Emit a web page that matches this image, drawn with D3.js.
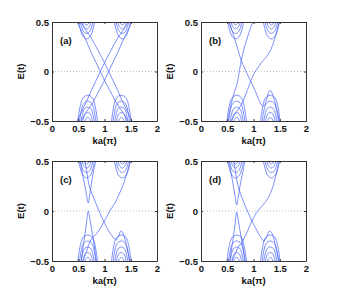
<!DOCTYPE html>
<html lang="en">
<head>
    <meta charset="UTF-8">
    <title>E(t) vs ka</title>
    <script src="https://d3js.org/d3.v7.min.js"></script>
    <style>
        body { margin: 0; background: #fff; }
        text { font-family: "Liberation Sans", Arial, sans-serif; font-weight: bold; font-size: 9.5px; fill: #111; }
    </style>
</head>
<body>
    <div id="chart"></div>
    <script>
        // tick values and labels
        const xTicks = [0, 0.5, 1, 1.5, 2];
        const yTicks = [-0.5, 0, 0.5];
        const panelLabels = ["(a)", "(b)", "(c)", "(d)"];

        // bulk subbands (ka in units of pi, E in units of t), shared by all panels
        const bandsTopLeft = [
            [[0.59, 0.52], [0.63, 0.48], [0.66, 0.47], [0.69, 0.48], [0.73, 0.52]],
            [[0.56, 0.52], [0.61, 0.45], [0.66, 0.43], [0.71, 0.45], [0.76, 0.52]],
            [[0.53, 0.52], [0.60, 0.405], [0.66, 0.385], [0.72, 0.405], [0.79, 0.52]],
            [[0.50, 0.52], [0.585, 0.36], [0.66, 0.33], [0.735, 0.36], [0.82, 0.52]]
        ];
        const bandsTopRight = [
            [[1.41, 0.52], [1.37, 0.48], [1.34, 0.47], [1.31, 0.48], [1.27, 0.52]],
            [[1.44, 0.52], [1.39, 0.45], [1.34, 0.43], [1.29, 0.45], [1.24, 0.52]],
            [[1.47, 0.52], [1.40, 0.405], [1.34, 0.385], [1.28, 0.405], [1.21, 0.52]],
            [[1.50, 0.52], [1.415, 0.36], [1.34, 0.33], [1.265, 0.36], [1.18, 0.52]]
        ];
        const bandsBottomLeft = [
            [[0.61, -0.52], [0.65, -0.475], [0.68, -0.465], [0.71, -0.475], [0.75, -0.52]],
            [[0.58, -0.52], [0.63, -0.43], [0.68, -0.415], [0.73, -0.43], [0.78, -0.52]],
            [[0.55, -0.52], [0.615, -0.38], [0.68, -0.36], [0.745, -0.38], [0.81, -0.52]],
            [[0.52, -0.52], [0.60, -0.325], [0.68, -0.30], [0.76, -0.325], [0.84, -0.52]],
            [[0.49, -0.52], [0.585, -0.27], [0.68, -0.24], [0.775, -0.27], [0.87, -0.52]]
        ];
        const bandsBottomRight = [
            [[1.39, -0.52], [1.35, -0.475], [1.32, -0.465], [1.29, -0.475], [1.25, -0.52]],
            [[1.42, -0.52], [1.37, -0.43], [1.32, -0.415], [1.27, -0.43], [1.22, -0.52]],
            [[1.45, -0.52], [1.385, -0.38], [1.32, -0.36], [1.255, -0.38], [1.19, -0.52]],
            [[1.48, -0.52], [1.40, -0.325], [1.32, -0.30], [1.24, -0.325], [1.16, -0.52]],
            [[1.51, -0.52], [1.415, -0.27], [1.32, -0.24], [1.225, -0.27], [1.13, -0.52]]
        ];

        // edge-state branches of each panel
        const edgeA = [
            [[0.46, 0.52], [0.56, 0.41], [0.66, 0.30], [0.75, 0.19], [0.84, 0.09], [0.92, 0], [1.0, -0.09], [1.1, -0.19], [1.2, -0.29], [1.28, -0.36], [1.36, -0.42], [1.47, -0.52]],
            [[1.54, -0.52], [1.44, -0.41], [1.34, -0.30], [1.25, -0.19], [1.16, -0.09], [1.08, 0], [1.0, 0.09], [0.9, 0.19], [0.8, 0.29], [0.72, 0.36], [0.64, 0.42], [0.53, 0.52]],
            [[0.46, -0.52], [0.56, -0.41], [0.66, -0.30], [0.75, -0.19], [0.84, -0.09], [0.92, 0], [1.0, 0.09], [1.1, 0.19], [1.2, 0.29], [1.28, 0.36], [1.36, 0.42], [1.47, 0.52]],
            [[1.54, 0.52], [1.44, 0.41], [1.34, 0.30], [1.25, 0.19], [1.16, 0.09], [1.08, 0], [1.0, -0.09], [0.9, -0.19], [0.8, -0.29], [0.72, -0.36], [0.64, -0.42], [0.53, -0.52]]
        ];
        const edgeB = [
            [[0.50, -0.52], [0.58, -0.32], [0.64, -0.20], [0.69, -0.12], [0.73, 0.0], [0.77, 0.12], [0.81, 0.21], [0.87, 0.32], [0.93, 0.42], [1.0, 0.52]],
            [[0.52, 0.52], [0.60, 0.40], [0.66, 0.30], [0.71, 0.21], [0.76, 0.12], [0.84, 0.02], [0.93, -0.08], [1.02, -0.18], [1.09, -0.27], [1.14, -0.33], [1.19, -0.35], [1.24, -0.30], [1.28, -0.22], [1.32, -0.19], [1.37, -0.24], [1.44, -0.38], [1.50, -0.52]],
            [[0.55, -0.52], [0.66, -0.42], [0.74, -0.36], [0.84, -0.25], [0.93, -0.12], [1.0, -0.03], [1.06, 0.02], [1.15, 0.09], [1.25, 0.15], [1.31, 0.20], [1.36, 0.26], [1.42, 0.36], [1.50, 0.52]]
        ];
        const edgeC = [
            [[0.53, 0.52], [0.59, 0.35], [0.645, 0.20], [0.69, 0.08], [0.72, 0.17], [0.76, 0.30], [0.80, 0.42], [0.84, 0.52]],
            [[0.55, -0.52], [0.60, -0.33], [0.65, -0.15], [0.69, 0.0], [0.72, -0.08], [0.76, -0.20], [0.80, -0.33], [0.85, -0.52]],
            [[0.62, 0.52], [0.66, 0.40], [0.71, 0.25], [0.78, 0.15], [0.88, 0.02], [0.99, -0.11], [1.08, -0.20], [1.16, -0.26], [1.22, -0.29], [1.27, -0.25], [1.31, -0.20], [1.35, -0.22], [1.42, -0.35], [1.49, -0.52]],
            [[0.58, -0.52], [0.66, -0.40], [0.73, -0.30], [0.79, -0.26], [0.86, -0.22], [0.99, -0.11], [1.10, 0.0], [1.20, 0.08], [1.28, 0.17], [1.34, 0.24], [1.38, 0.30], [1.44, 0.40], [1.50, 0.52]]
        ];
        const edgeD = [
            [[0.52, 0.52], [0.58, 0.36], [0.64, 0.18], [0.68, 0.06], [0.71, 0.14], [0.75, 0.27], [0.80, 0.40], [0.84, 0.52]],
            [[0.54, -0.52], [0.60, -0.32], [0.645, -0.15], [0.68, -0.01], [0.71, -0.09], [0.75, -0.22], [0.80, -0.36], [0.85, -0.52]],
            [[0.62, 0.52], [0.66, 0.38], [0.70, 0.26], [0.76, 0.16], [0.86, 0.03], [0.97, -0.10], [1.07, -0.20], [1.15, -0.27], [1.20, -0.30], [1.25, -0.26], [1.30, -0.20], [1.35, -0.22], [1.42, -0.35], [1.49, -0.52]],
            [[0.58, -0.52], [0.66, -0.42], [0.72, -0.35], [0.78, -0.31], [0.87, -0.22], [0.97, -0.10], [1.08, 0.0], [1.18, 0.06], [1.28, 0.13], [1.36, 0.23], [1.40, 0.30], [1.45, 0.40], [1.50, 0.52]]
        ];

        const edges = [edgeA, edgeB, edgeC, edgeD];

        const W = 338, H = 295;
        const svg = d3.select("#chart").append("svg")
            .attr("width", W)
            .attr("height", H);

        // panel boxes (left, top, right, bottom) in pixels
        const boxes = [
            { l: 52, t: 22, r: 157, b: 121 },
            { l: 201, t: 22, r: 306, b: 121 },
            { l: 52, t: 161, r: 157, b: 261 },
            { l: 201, t: 161, r: 306, b: 261 }
        ];

        const fmt = d3.format("");

        boxes.forEach((box, i) => {
            const x = d3.scaleLinear().domain([0, 2]).range([box.l, box.r]);
            const y = d3.scaleLinear().domain([-0.5, 0.5]).range([box.b, box.t]);

            const clipId = "clip" + i;
            svg.append("clipPath").attr("id", clipId)
                .append("rect")
                .attr("x", box.l).attr("y", box.t)
                .attr("width", box.r - box.l).attr("height", box.b - box.t);

            // dotted zero line
            svg.append("line")
                .attr("x1", x(0)).attr("x2", x(2))
                .attr("y1", y(0)).attr("y2", y(0))
                .attr("stroke", "#a8a8a8")
                .attr("stroke-width", 0.7)
                .attr("stroke-dasharray", "1,2");

            const line = d3.line()
                .x(d => x(d[0]))
                .y(d => y(d[1]))
                .curve(d3.curveCatmullRom.alpha(0.5));

            const curves = bandsTopLeft.concat(bandsTopRight, bandsBottomLeft, bandsBottomRight, edges[i]);

            svg.append("g")
                .attr("clip-path", `url(#${clipId})`)
                .selectAll("path")
                .data(curves)
                .enter()
                .append("path")
                .attr("d", line)
                .attr("fill", "none")
                .attr("stroke", "#4560f8")
                .attr("stroke-width", 0.7);

            // axes, ticks pointing inward like matlab
            svg.append("g")
                .attr("transform", `translate(0,${box.b})`)
                .call(d3.axisBottom(x).tickValues(xTicks).tickFormat(fmt).tickSizeInner(-2).tickSizeOuter(0).tickPadding(4));
            svg.append("g")
                .attr("transform", `translate(0,${box.t})`)
                .call(d3.axisTop(x).tickValues(xTicks).tickFormat("").tickSizeInner(-2).tickSizeOuter(0));
            svg.append("g")
                .attr("transform", `translate(${box.l},0)`)
                .call(d3.axisLeft(y).tickValues(yTicks).tickFormat(fmt).tickSizeInner(-2).tickSizeOuter(0).tickPadding(3));
            svg.append("g")
                .attr("transform", `translate(${box.r},0)`)
                .call(d3.axisRight(y).tickValues(yTicks).tickFormat("").tickSizeInner(-2).tickSizeOuter(0));

            svg.selectAll(".domain, .tick line").attr("stroke", "#333");
            svg.selectAll(".tick text")
                .attr("font-family", "Liberation Sans, Arial, sans-serif")
                .attr("font-weight", "bold")
                .attr("font-size", 9.5)
                .attr("fill", "#111");

            // axis titles
            svg.append("text")
                .attr("x", (box.l + box.r) / 2)
                .attr("y", box.b + 23)
                .attr("text-anchor", "middle")
                .text("ka(π)");

            svg.append("text")
                .attr("transform", `translate(${box.l - 28},${(box.t + box.b) / 2}) rotate(-90)`)
                .attr("text-anchor", "middle")
                .text("E(t)");

            svg.append("text")
                .attr("x", box.l + 8)
                .attr("y", box.t + 22)
                .text(panelLabels[i]);
        });
    </script>
</body>
</html>
